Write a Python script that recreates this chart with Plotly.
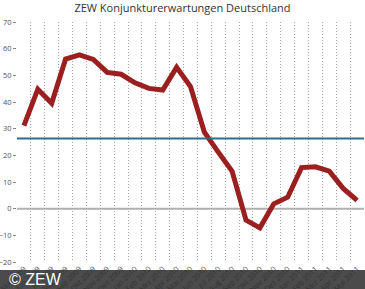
import plotly.graph_objects as go

months = ["Mai 2009", "Jun 2009", "Jul 2009", "Aug 2009", "Sep 2009", "Okt 2009", "Nov 2009", "Dez 2009",
          "Jan 2010", "Feb 2010", "Mrz 2010", "Apr 2010", "Mai 2010", "Jun 2010", "Jul 2010", "Aug 2010",
          "Sep 2010", "Okt 2010", "Nov 2010", "Dez 2010", "Jan 2011", "Feb 2011", "Mrz 2011", "Apr 2011", "Mai 2011"]
expectations = [31.1, 44.8, 39.5, 56.1, 57.7, 56.0, 51.1, 50.4, 47.2, 45.1, 44.5, 53.0, 45.8,
                28.7, 21.2, 14.0, -4.3, -7.2, 1.8, 4.3, 15.4, 15.7, 14.1, 7.6, 3.1]
average = 26.3
y_ticks = [-20, -10, 0, 10, 20, 30, 40, 50, 60, 70]

fig = go.Figure()
fig.add_trace(go.Scatter(x=months, y=expectations, mode="lines",
                         line=dict(color="#9b1f1f", width=5), hoverinfo="skip"))

fig.add_shape(type="line", xref="paper", yref="y", x0=0, x1=1, y0=0, y1=0,
              line=dict(color="#b0b0b0", width=2), layer="below")
fig.add_shape(type="line", xref="paper", yref="y", x0=0, x1=1, y0=average, y1=average,
              line=dict(color="#2f6d8c", width=2), layer="above")
fig.add_shape(type="rect", xref="paper", yref="paper", x0=-0.1, x1=1.1, y0=-0.2, y1=-0.033,
              fillcolor="rgba(45,45,45,0.86)", line=dict(width=0), layer="above")
fig.add_annotation(text="© ZEW", xref="paper", yref="paper", x=-0.03, y=-0.073,
                   xanchor="left", yanchor="middle", showarrow=False,
                   font=dict(family="Liberation Sans, Arial", size=16, color="white"))

fig.update_layout(
    width=365, height=289,
    margin=dict(l=17, r=1, t=22, b=27),
    paper_bgcolor="white", plot_bgcolor="white",
    showlegend=False,
    title=dict(text="ZEW Konjunkturerwartungen Deutschland", x=0.5, xanchor="center",
               y=0.985, yanchor="top",
               font=dict(family="Open Sans", size=11, color="#333333")),
    xaxis=dict(type="category", range=[-0.5, 24.5], tickson="boundaries",
               showgrid=True, gridcolor="#a8a8a8", griddash="1px,2px", gridwidth=1,
               tickangle=-45, tickfont=dict(family="Open Sans", size=7.5, color="#555555"),
               ticks="", showline=False, zeroline=False, automargin=False),
    yaxis=dict(range=[-20, 70], tickvals=y_ticks, showgrid=False, zeroline=False,
               ticks="outside", ticklen=3, tickcolor="#888888", showline=False,
               automargin=False,
               tickfont=dict(family="Open Sans", size=7.5, color="#555555")),
)

fig.write_html("out.html")
